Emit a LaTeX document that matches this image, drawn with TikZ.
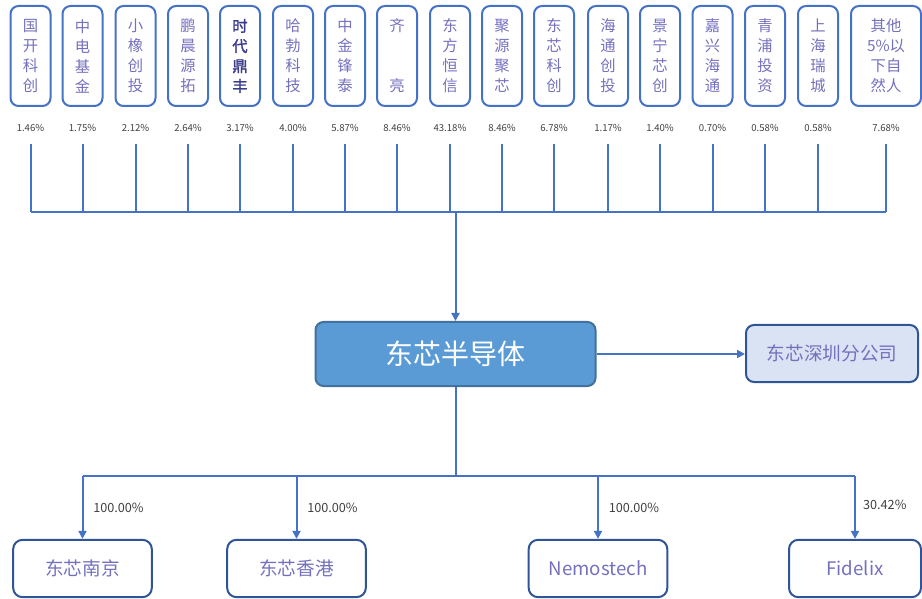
\documentclass[tikz,border=0pt]{standalone}
\usepackage{fontspec}
\setmainfont{Noto Sans CJK SC}
\newfontfamily\cjkbold[FakeBold=1.6]{Noto Sans CJK SC}
\usepackage{tikz}
\usetikzlibrary{arrows.meta}
\definecolor{lineblue}{HTML}{4472C4}
\definecolor{boxtext}{RGB}{116,112,190}
\definecolor{boldtext}{RGB}{60,60,140}
\definecolor{corefill}{HTML}{5B9BD5}
\definecolor{coreedge}{HTML}{41719C}
\definecolor{branchfill}{HTML}{DAE3F3}
\definecolor{subedge}{HTML}{2F5597}
\definecolor{pcttext}{HTML}{404040}

\begin{document}
\begin{tikzpicture}[x=0.75pt,y=-0.75pt,
  holder/.style={draw=lineblue,line width=1.5pt,rounded corners=6pt,minimum width=30pt,minimum height=75pt,
    inner sep=0pt,align=center,text=boxtext,font=\fontsize{11.5}{15}\selectfont},
  lite/.style={},
  heavy/.style={text=boldtext,font=\cjkbold\fontsize{11.5}{15}\selectfont},
  wide/.style={minimum width=52.5pt},
  pct/.style={text=pcttext,font=\fontsize{7.2}{8}\selectfont,inner sep=1pt},
  bus/.style={draw=lineblue,line width=1.5pt},
  link/.style={bus,-{Triangle[length=6pt,width=6pt]}},
  sub/.style={draw=subedge,line width=1.5pt,rounded corners=7pt,minimum width=104pt,minimum height=43pt,
    text=boxtext,font=\fontsize{14}{16}\selectfont},
  share/.style={text=pcttext,font=\fontsize{9.5}{11}\selectfont,anchor=west,xshift=4pt}]
\useasboundingbox (0,0) rectangle (922,599);

\coordinate (bus) at (0,212);
\foreach \x/\n/\p/\s [count=\i] in {30.5/国\\开\\科\\创/1.46\%/lite, 82.5/中\\电\\基\\金/1.75\%/lite,
    135.5/小\\橡\\创\\投/2.12\%/lite, 188/鹏\\晨\\源\\拓/2.64\%/lite, 240/时\\代\\鼎\\丰/3.17\%/heavy,
    293/哈\\勃\\科\\技/4.00\%/lite, 345/中\\金\\锋\\泰/5.87\%/lite, 397/齐\\~\\~\\亮/8.46\%/lite,
    450/东\\方\\恒\\信/43.18\%/lite, 502/聚\\源\\聚\\芯/8.46\%/lite, 554/东\\芯\\科\\创/6.78\%/lite,
    608/海\\通\\创\\投/1.17\%/lite, 660/景\\宁\\芯\\创/1.40\%/lite, 712.5/嘉\\兴\\海\\通/0.70\%/lite,
    765/青\\浦\\投\\资/0.58\%/lite, 818/上\\海\\瑞\\城/0.58\%/lite, 886/其他\\5\%以\\下自\\然人/7.68\%/wide}
{
  \node[holder,\s] (h\i) at (\x,56) {\n};
  \node[pct] (p\i) at (\x,128) {\p};
  \draw[bus] ([yshift=-8pt]p\i.south) -- (p\i.south |- bus);
}
\draw[bus] (p1.south |- bus) -- (p17.south |- bus);

\node[draw=coreedge,fill=corefill,line width=1.5pt,rounded corners=6pt,minimum width=210pt,minimum height=48pt,
  text=white,font=\fontsize{21}{24}\selectfont] (core) at (455.5,354) {东芯半导体};
\draw[link] (core.north |- bus) -- (core.north);

\node[draw=subedge,fill=branchfill,line width=1.5pt,rounded corners=6pt,minimum width=129pt,minimum height=42.75pt,
  text=boxtext,font=\fontsize{14}{16}\selectfont] (sz) at (832,353.5) {东芯深圳分公司};
\draw[link] (core.east) -- (core.east -| sz.west);

\node[sub] (nj) at (82.5,568.5) {东芯南京};
\node[sub] (hk) at (296.5,568.5) {东芯香港};
\node[sub] (nemo) at (598,568.5) {Nemostech};
\node[sub,minimum width=99pt] (fx) at (855,568.5) {Fidelix};

\coordinate (fork) at (455.5,476);
\draw[bus] (core.south) -- (fork);
\draw[bus] (nj.north |- fork) -- (fx.north |- fork);
\draw[link] (nj.north |- fork) -- (nj.north) node[share,midway] {100.00\%};
\draw[link] (hk.north |- fork) -- (hk.north) node[share,midway] {100.00\%};
\draw[link] (nemo.north |- fork) -- (nemo.north) node[share,midway] {100.00\%};
\draw[link] (fx.north |- fork) -- (fx.north) node[share,midway,xshift=-2pt,yshift=2pt] {30.42\%};
\end{tikzpicture}
\end{document}
